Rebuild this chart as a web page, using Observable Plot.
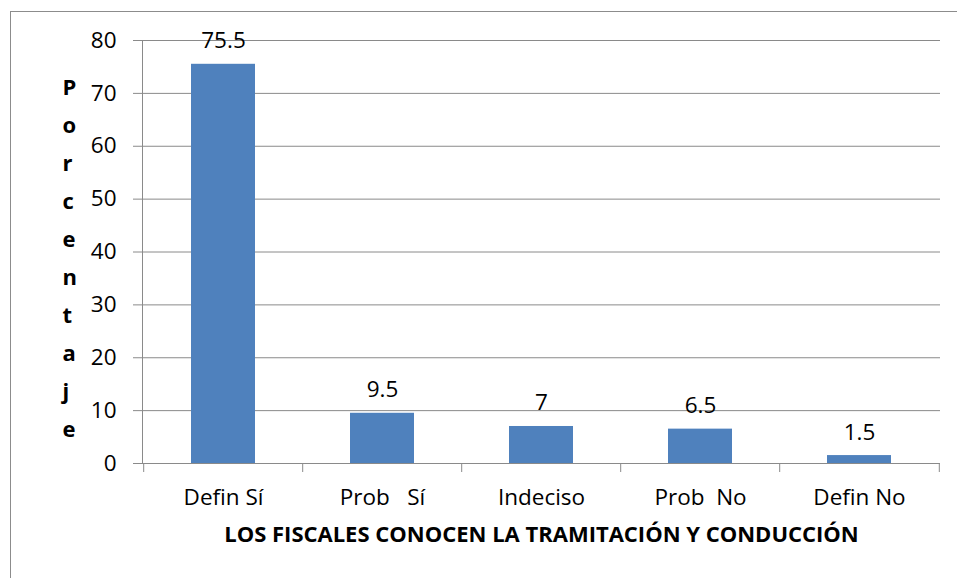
<!DOCTYPE html>
<html><head><meta charset="utf-8">
<script src="https://cdn.jsdelivr.net/npm/d3@7"></script>
<script src="https://cdn.jsdelivr.net/npm/@observablehq/plot@0.6"></script>
<style>
body{margin:0;background:#fff;}
#wrap{position:relative;width:957px;height:578px;overflow:hidden;background:#fff;}
#border{position:absolute;left:10px;top:11px;width:1000px;height:1000px;border:1px solid #8c8c8c;}
#chart{position:absolute;left:0;top:0;}
svg text{white-space:pre;}
</style></head><body>
<div id="wrap"><div id="border"></div><div id="chart"></div></div>
<script>
const categories = ["Defin Sí", "Prob   Sí", "Indeciso", "Prob  No", "Defin No"];
const values = [75.5, 9.5, 7, 6.5, 1.5];
const yTicks = [0, 10, 20, 30, 40, 50, 60, 70, 80];
const xTitle = "LOS FISCALES CONOCEN LA TRAMITACIÓN Y CONDUCCIÓN";
const yTitle = "Porcentaje";

const data = categories.map((c, i) => ({cat: c, val: values[i]}));
const width = 957, height = 578;
const mL = 142, mR = 17, mT = 40, mB = 115;
const step = (width - mL - mR) / categories.length;
const font = "'Open Sans', sans-serif";
const grid = "#8a8a8a";

const chart = Plot.plot({
  width, height,
  marginLeft: mL, marginRight: mR, marginTop: mT, marginBottom: mB,
  style: {fontFamily: font, background: "transparent", overflow: "visible"},
  x: {domain: categories, paddingInner: 0.6, paddingOuter: 0.3},
  y: {domain: [0, 80]},
  marks: [
    Plot.ruleY(yTicks, {stroke: grid, strokeWidth: 1}),
    Plot.frame({anchor: "left", stroke: grid}),
    Plot.axisY({ticks: yTicks, tickSize: 9, tickPadding: 17, fontSize: 22.5, stroke: grid, color: "#000", label: null}),
    Plot.axisX({tickSize: 9, tickFormat: () => "", dx: -step / 2, stroke: grid, label: null}),
    Plot.axisX({ticks: [categories[categories.length - 1]], tickSize: 9, tickFormat: () => "", dx: step / 2, stroke: grid, label: null}),
    Plot.axisX({tickSize: 0, tickPadding: 26, fontSize: 22.5, color: "#000", label: null}),
    Plot.barY(data, {x: "cat", y: "val", fill: "#4f81bd"}),
    Plot.text(data, {x: "cat", y: "val", text: d => String(d.val), lineAnchor: "bottom", dy: -16, fontSize: 22.5, fill: "#000"}),
    Plot.text([yTitle], {text: d => d.split("").join("\n"), frameAnchor: "left", dx: -80, dy: 2, lineHeight: 1.73, fontSize: 22, fontWeight: "bold", fill: "#000"}),
    Plot.text([xTitle], {text: d => d, frameAnchor: "bottom", dy: 78, fontSize: 22, fontWeight: "bold", fill: "#000"})
  ]
});
document.getElementById("chart").appendChild(chart);
</script>
</body></html>
